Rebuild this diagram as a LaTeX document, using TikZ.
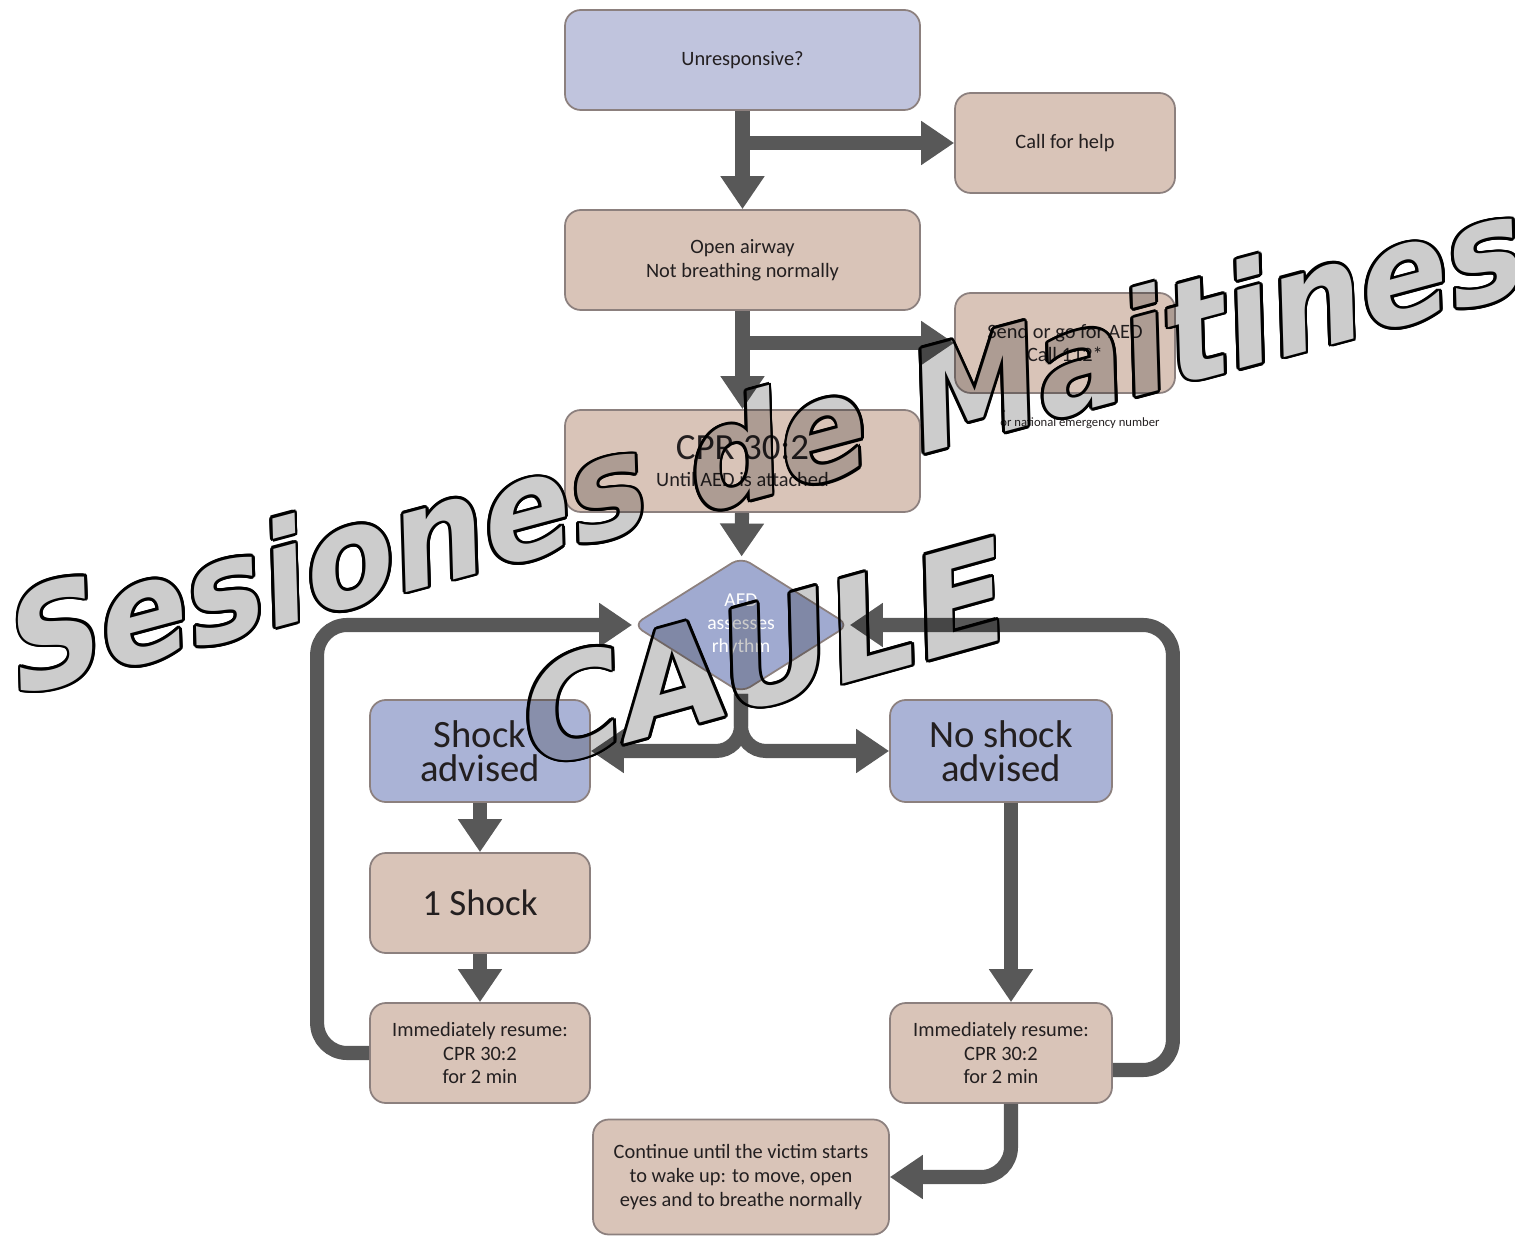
\documentclass[tikz,border=0pt]{standalone}
\usepackage{fontspec}
\setmainfont{Carlito}
\newfontfamily\markfont{DejaVu Sans}[FakeSlant=0.25]
\usetikzlibrary{arrows.meta, shapes.geometric, fadings}

\definecolor{boxblue}{RGB}{192,196,221}
\definecolor{advblue}{RGB}{170,179,214}
\definecolor{diablue}{RGB}{160,170,208}
\definecolor{boxtan}{RGB}{217,196,184}
\definecolor{boxedge}{RGB}{140,128,126}
\definecolor{flowgray}{RGB}{88,88,88}
\definecolor{inktext}{RGB}{35,31,32}

% Watermark mask: white copies give the outline, the letter bodies stay faint
\newcommand\markstyle{\markfont\bfseries}
\newcommand\markone{\scalebox{1}[1.06]{\markstyle\fontsize{37.4}{40}\selectfont Sesiones de Maitines}}
\newcommand\marktwo{\markstyle\fontsize{39.5}{42}\selectfont CAULE}
\pgfdeclarefading{watermark}{%
  \begin{pgfpicture}
    \pgfpathrectangle{\pgfpoint{-7.575cm}{-6.18cm}}{\pgfpoint{15.15cm}{12.36cm}}
    \pgfusepath{use as bounding box}
    \foreach \a in {0,22.5,...,337.5}{%
      \pgftext[left,base,at={\pgfpointadd{\pgfpoint{-7.455cm}{-0.80cm}}{\pgfpointpolar{\a}{0.8pt}}},rotate=15]{\color{white}\markone}
      \pgftext[left,base,at={\pgfpointadd{\pgfpoint{-2.33cm}{-1.54cm}}{\pgfpointpolar{\a}{0.8pt}}},rotate=15.5]{\color{white}\marktwo}
    }
    \pgftext[left,base,at={\pgfpoint{-7.455cm}{-0.80cm}},rotate=15]{\color{black!80}\markone}
    \pgftext[left,base,at={\pgfpoint{-2.33cm}{-1.54cm}},rotate=15.5]{\color{black!80}\marktwo}
  \end{pgfpicture}}

\begin{document}
\begin{tikzpicture}[
    card/.style={draw=boxedge, line width=0.5pt, rounded corners=4.5pt, align=center,
      text=inktext, inner sep=1pt, font=\fontsize{5.8}{6.8}\selectfont},
    bluecard/.style={card, fill=boxblue},
    tancard/.style={card, fill=boxtan},
    advcard/.style={card, fill=advblue, font=\fontsize{11}{9.6}\selectfont,
      minimum width=2.2cm, minimum height=1.02cm},
    wide/.style={minimum width=3.55cm, minimum height=1cm},
    narrow/.style={minimum width=2.2cm, minimum height=1cm},
    flow/.style={draw=flowgray, line width=4pt, -{Triangle[length=3.3mm,width=4.2mm]}},
    loopbend/.style={rounded corners=0.3cm}
  ]
    \useasboundingbox (0,0) rectangle (15.15,-12.36);

    % Main column
    \node[bluecard, wide] (unresp) at (7.425,-0.60) {Unresponsive?};
    \node[tancard, wide] (airway) at (7.425,-2.60) {Open airway\\Not breathing normally};
    \node[tancard, wide, minimum height=1.02cm] (cpr) at (7.425,-4.61)
      {{\fontsize{10.5}{11}\selectfont CPR 30:2}\\[1pt]Until AED is attached};

    % Side actions
    \node[tancard, narrow] (help) at (10.65,-1.43) {Call for help};
    \node[tancard, narrow] (aed) at (10.65,-3.43) {Send or go for AED\\Call 112*};
    \node[font=\fontsize{3.6}{4}\selectfont, text=inktext] (note) at (10.80,-4.19)
      {\rlap{\raisebox{1.3ex}{*}}or national emergency number};

    % Rhythm check
    \node[diamond, aspect=1.6, minimum width=2.16cm, minimum height=1.36cm, inner sep=0pt,
      rounded corners=3pt, fill=diablue, draw=boxedge, line width=0.5pt, align=center,
      text=white, font=\fontsize{5.6}{6.6}\selectfont] (rhythm) at (7.41,-6.25)
      {AED\\assesses\\rhythm};

    % Shock branch
    \node[advcard] (shock) at (4.80,-7.51) {Shock\\advised};
    \node[tancard, narrow, font=\fontsize{10.5}{11}\selectfont] (oneshock) at (4.80,-9.03) {1 Shock};
    \node[tancard, narrow] (resumeL) at (4.80,-10.53) {Immediately resume:\\CPR 30:2\\for 2 min};

    % No shock branch
    \node[advcard, minimum width=2.22cm] (noshock) at (10.01,-7.51) {No shock\\advised};
    \node[tancard, narrow, minimum width=2.22cm] (resumeR) at (10.01,-10.53) {Immediately resume:\\CPR 30:2\\for 2 min};

    \node[tancard, minimum width=2.96cm, minimum height=1.15cm] (cont) at (7.41,-11.77)
      {Continue until the victim starts\\to wake up: to move, open\\eyes and to breathe normally};

    % Connectors
    \draw[flow] (unresp) -- (airway);
    \draw[flow] (unresp.south |- help.west) -- (help.west);
    \draw[flow] (airway) -- (cpr);
    \draw[flow] (airway.south |- aed.west) -- (aed.west);
    \draw[flow] (cpr) -- (rhythm);
    \draw[flow, rounded corners=0.25cm] (rhythm.south) |- (shock.east);
    \draw[flow, rounded corners=0.25cm] (rhythm.south) |- (noshock.west);
    \draw[flow] (shock) -- (oneshock);
    \draw[flow] (oneshock) -- (resumeL);
    \draw[flow] ([xshift=0.1cm]noshock.south) -- ([xshift=0.1cm]resumeR.north);
    \draw[flow, loopbend] (resumeL.west) -- ++(-0.52,0) |- (rhythm.west);
    \draw[flow, loopbend] ([yshift=-0.17cm]resumeR.east) -- ++(0.6,0) |- (rhythm.east);
    \draw[flow, loopbend] ([xshift=0.1cm]resumeR.south) |- (cont.east);

    % Watermark
    \fill[black, path fading=watermark, fit fading=false,
      fading transform={shift={(7.575,-6.18)}}] (0,0) rectangle (15.15,-12.36);
\end{tikzpicture}
\end{document}
